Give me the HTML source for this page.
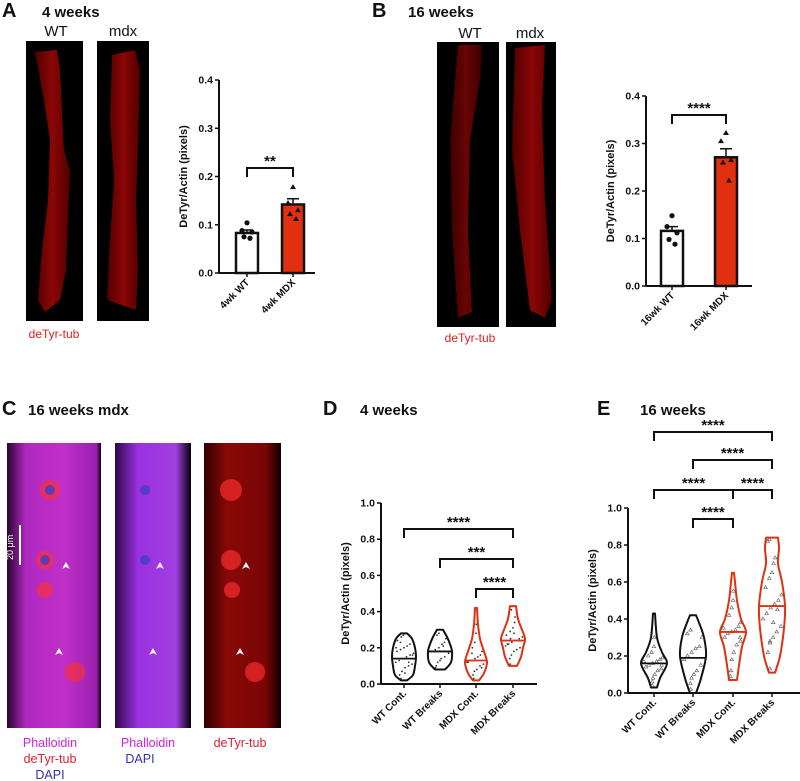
<!DOCTYPE html>
<html><head><meta charset="utf-8"><style>
body{margin:0;background:#fff;}
svg{display:block;font-family:"Liberation Sans",Arial,sans-serif;}
</style></head><body>
<svg id="fig" width="800" height="781" viewBox="0 0 800 781">
<defs>
<linearGradient id="gfib" x1="0" x2="1"><stop offset="0" stop-color="#500000"/><stop offset="0.5" stop-color="#8c0606"/><stop offset="1" stop-color="#500000"/></linearGradient>
<linearGradient id="gmag" x1="0" x2="1"><stop offset="0" stop-color="#2a0530"/><stop offset="0.2" stop-color="#b028c0"/><stop offset="0.6" stop-color="#c030c8"/><stop offset="0.95" stop-color="#9a20b0"/><stop offset="1" stop-color="#100010"/></linearGradient>
<linearGradient id="gmag2" x1="0" x2="1"><stop offset="0" stop-color="#30084a"/><stop offset="0.3" stop-color="#9a30e0"/><stop offset="0.8" stop-color="#a040e0"/><stop offset="1" stop-color="#050005"/></linearGradient>
<linearGradient id="gred" x1="0" x2="1"><stop offset="0" stop-color="#300000"/><stop offset="0.3" stop-color="#8a0808"/><stop offset="0.8" stop-color="#7a0505"/><stop offset="1" stop-color="#100000"/></linearGradient>
</defs>
<g font-weight="bold" fill="#111">
<text x="2" y="17" font-size="20">A</text>
<text x="42" y="17" font-size="15">4 weeks</text>
<text x="372" y="17" font-size="20">B</text>
<text x="408" y="17" font-size="15">16 weeks</text>
<text x="2" y="415" font-size="20">C</text>
<text x="28" y="415" font-size="15">16 weeks mdx</text>
<text x="323" y="415" font-size="20">D</text>
<text x="360" y="415" font-size="15">4 weeks</text>
<text x="597" y="415" font-size="20">E</text>
<text x="640" y="415" font-size="15">16 weeks</text>
</g>
<g font-size="15" fill="#111">
<text x="56" y="36" text-anchor="middle">WT</text>
<text x="123" y="36" text-anchor="middle">mdx</text>
<text x="470" y="38" text-anchor="middle">WT</text>
<text x="530" y="38" text-anchor="middle">mdx</text>
</g>
<rect x="26" y="41" width="57" height="280" fill="#000"/>
<path d="M35 52 L57 50 L60 70 L64 150 L70 170 L68 220 L66 270 L60 300 L45 312 L38 300 L42 250 L48 200 L50 140 L44 100 Z" fill="url(#gfib)"/>
<rect x="97" y="41" width="52" height="280" fill="#000"/>
<path d="M112 55 L135 50 L140 70 L138 150 L136 200 L138 270 L136 310 L107 300 L110 240 L114 180 L110 120 Z" fill="url(#gfib)"/>
<text x="54" y="338" font-size="12" fill="#e02020" text-anchor="middle">deTyr-tub</text>
<rect x="437" y="42" width="62" height="285" fill="#000"/>
<path d="M458 45 L482 45 L480 80 L470 140 L468 230 L472 312 L458 318 L452 230 L450 140 Z" fill="url(#gfib)" opacity="0.75"/>
<rect x="506" y="42" width="50" height="285" fill="#000"/>
<path d="M515 48 L545 45 L542 110 L545 200 L552 300 L545 318 L530 310 L520 230 L512 150 Z" fill="url(#gfib)"/>
<text x="470" y="342" font-size="12" fill="#e02020" text-anchor="middle">deTyr-tub</text>
<rect x="7" y="443" width="94" height="285" fill="url(#gmag)"/>
<rect x="115" y="443" width="76" height="285" fill="url(#gmag2)"/>
<rect x="204" y="443" width="77" height="285" fill="url(#gred)"/>
<g fill="#ff3030" opacity="0.65">
<circle cx="50" cy="490" r="10"/><circle cx="45" cy="560" r="9"/><circle cx="45" cy="590" r="8"/><circle cx="75" cy="672" r="10"/>
<circle cx="231" cy="490" r="11"/><circle cx="231" cy="560" r="10"/><circle cx="232" cy="590" r="8"/><circle cx="255" cy="672" r="10"/>
</g>
<g fill="#4040c0" opacity="0.8"><circle cx="50" cy="490" r="5"/><circle cx="45" cy="560" r="5"/><circle cx="145" cy="490" r="5"/><circle cx="145" cy="560" r="5"/></g>
<line x1="20" y1="525" x2="20" y2="565" stroke="#fff" stroke-width="2"/>
<text x="13" y="560" font-size="9" fill="#fff" transform="rotate(-90 13 560)">20 μm</text>
<g fill="#fff"><path d="M66 562 l-4 7 l4 -2 l4 2z"/><path d="M59 648 l-4 7 l4 -2 l4 2z"/><path d="M160 562 l-4 7 l4 -2 l4 2z"/><path d="M153 648 l-4 7 l4 -2 l4 2z"/><path d="M246 562 l-4 7 l4 -2 l4 2z"/><path d="M240 648 l-4 7 l4 -2 l4 2z"/></g>
<g font-size="12.5" text-anchor="middle">
<text x="50" y="747" fill="#d020e0">Phalloidin</text>
<text x="50" y="763" fill="#e02030">deTyr-tub</text>
<text x="50" y="779" fill="#3030b0">DAPI</text>
<text x="148" y="747" fill="#d020e0">Phalloidin</text>
<text x="140" y="763" fill="#3030b0">DAPI</text>
<text x="240" y="747" fill="#e02030">deTyr-tub</text>
</g>
<g id="charts"></g>
</svg>
<script>
const barCatsA = ["4wk WT","4wk MDX"];
const barMeansA = [0.083, 0.142];
const barSemA = [0.006, 0.012];
const barPtsA = [[0.104,0.088,0.085,0.075,0.072],[0.178,0.145,0.130,0.122,0.112]];
const barCatsB = ["16wk WT","16wk MDX"];
const barMeansB = [0.116, 0.271];
const barSemB = [0.009, 0.018];
const barPtsB = [[0.148,0.125,0.112,0.098,0.088],[0.322,0.305,0.265,0.260,0.222]];
const barTicks = [0.0,0.1,0.2,0.3,0.4];
const violinCats = ["WT Cont.","WT Breaks","MDX Cont.","MDX Breaks"];
const violinTicks = [0.0,0.2,0.4,0.6,0.8,1.0];
const dShapes = [
 [[0.02,3],[0.05,9],[0.1,11],[0.15,12],[0.2,11],[0.25,8],[0.28,3]],
 [[0.08,5],[0.12,11],[0.18,12],[0.22,10],[0.26,7],[0.3,3]],
 [[0.02,3],[0.06,8],[0.12,11],[0.18,8],[0.25,4],[0.33,2],[0.42,1]],
 [[0.1,4],[0.15,8],[0.2,10],[0.25,12],[0.3,9],[0.36,5],[0.43,3]]];
const dMedians = [0.14,0.18,0.13,0.24];
const dPoints = [
 [0.03,0.05,0.07,0.09,0.1,0.11,0.12,0.13,0.14,0.15,0.16,0.17,0.18,0.19,0.2,0.21,0.22,0.24,0.26,0.27,0.06,0.12,0.16,0.2,0.23],
 [0.09,0.1,0.12,0.14,0.15,0.17,0.18,0.19,0.2,0.22,0.23,0.25,0.27,0.28,0.13,0.21],
 [0.03,0.05,0.07,0.08,0.1,0.11,0.12,0.13,0.14,0.15,0.16,0.18,0.2,0.23,0.28,0.33,0.09,0.12,0.17],
 [0.11,0.14,0.16,0.18,0.19,0.2,0.21,0.22,0.23,0.24,0.25,0.26,0.27,0.29,0.31,0.34,0.37,0.41,0.22,0.25,0.28]];
const eShapes = [
 [[0.03,3],[0.08,6],[0.16,13],[0.22,8],[0.3,3],[0.43,1]],
 [[0.0,3],[0.08,8],[0.2,13],[0.3,11],[0.38,6],[0.42,3]],
 [[0.07,4],[0.15,6],[0.25,9],[0.33,13],[0.4,8],[0.5,4],[0.6,2],[0.65,1]],
 [[0.11,3],[0.2,8],[0.35,12],[0.47,13],[0.6,10],[0.7,6],[0.78,7],[0.84,6]]];
const eMedians = [0.16,0.19,0.33,0.47];
const ePoints = [
 [0.04,0.06,0.08,0.1,0.12,0.13,0.14,0.15,0.16,0.17,0.18,0.19,0.2,0.22,0.25,0.3,0.15,0.17],
 [0.02,0.05,0.08,0.1,0.12,0.15,0.18,0.2,0.22,0.24,0.25,0.3,0.32,0.34],
 [0.09,0.12,0.18,0.22,0.26,0.28,0.3,0.32,0.33,0.34,0.36,0.38,0.42,0.46,0.5,0.55,0.3,0.35],
 [0.13,0.22,0.27,0.3,0.33,0.36,0.4,0.43,0.46,0.48,0.5,0.53,0.57,0.62,0.65,0.7,0.73,0.82,0.83,0.28,0.38,0.45]];

const NS="http://www.w3.org/2000/svg";
const root=document.getElementById('charts');
function mk(tag,attrs,parent){const e=document.createElementNS(NS,tag);for(const k in attrs)e.setAttribute(k,attrs[k]);(parent||root).appendChild(e);return e;}
function txt(x,y,s,attrs,parent){const t=mk('text',Object.assign({x:x,y:y},attrs),parent);t.textContent=s;return t;}

function axes(g,ax){
 const yAx=mk('line',{x1:ax.x0,y1:ax.y(ax.ymax),x2:ax.x0,y2:ax.y(0),stroke:'#111','stroke-width':2},g);
 
 
 const xAx=mk('line',{x1:ax.x0,y1:ax.y(0),x2:ax.x1,y2:ax.y(0),stroke:'#111','stroke-width':2},g);
 
 
 ax.ticks.forEach(v=>{
  mk('line',{x1:ax.x0-4,y1:ax.y(v),x2:ax.x0,y2:ax.y(v),stroke:'#111','stroke-width':1.5},g);
  const t=txt(ax.x0-6,ax.y(v)+3.5,v.toFixed(1),{'font-size':10.5,'font-weight':'bold','text-anchor':'end',fill:'#111'},g);
  
  
 });
 const ym=(ax.y(0)+ax.y(ax.ymax))/2;
 const yt=txt(ax.x0-32,ym,'DeTyr/Actin (pixels)',{'font-size':11,'font-weight':'bold','text-anchor':'middle',fill:'#111',transform:`rotate(-90 ${ax.x0-32} ${ym})`},g);
 
 
 ax.cats.forEach((c,i)=>{
  const cx=ax.cx(i);
  mk('line',{x1:cx,y1:ax.y(0),x2:cx,y2:ax.y(0)+4,stroke:'#111','stroke-width':1.5},g);
  const yy=ax.y(0)+10;
  const l=txt(cx+3,yy,c,{'font-size':10,'font-weight':'bold','text-anchor':'end',fill:'#111',transform:`rotate(-45 ${cx+3} ${yy})`},g);
  
  
 });
}
function bracket(g,ax,i,j,yp,stars){
 const p=mk('path',{d:`M${ax.cx(i)} ${yp+9} V${yp} H${ax.cx(j)} V${yp+9}`,fill:'none',stroke:'#111','stroke-width':2},g);
 
 
 const t=txt((ax.cx(i)+ax.cx(j))/2,yp-2,stars,{'font-size':15,'font-weight':'bold','text-anchor':'middle',fill:'#111'},g);
 
 
}
function barChart(name,x0,x1,y0px,ytop,cx0,cx1,cats,means,sems,pts){
 const g=mk('g',{});
 
 
 const ax={x0:x0,x1:x1,ymax:0.4,ticks:barTicks,cats:cats,y:v=>y0px-(y0px-ytop)*v/0.4,cx:i=>i===0?cx0:cx1};
 means.forEach((m,i)=>{
  const cx=ax.cx(i);
  const r=mk('rect',{x:cx-11,y:ax.y(m),width:22,height:ax.y(0)-ax.y(m),fill:i?'#e03010':'#fff',stroke:'#111','stroke-width':2.5},g);
  
  
  mk('path',{d:`M${cx} ${ax.y(m)} V${ax.y(m+sems[i])} M${cx-6} ${ax.y(m+sems[i])} H${cx+6}`,stroke:'#111','stroke-width':1.5},g);
  pts[i].forEach((v,k)=>{
   const dx=[0,-5,5,-3,3][k%5];
   const py=ax.y(v);
   if(i===0){const c=mk('circle',{cx:cx+dx,cy:py,r:2.6,fill:'#111'},g);}
   else{const c=mk('path',{d:`M${cx+dx} ${py-3} l3 5 h-6z`,fill:'#111'},g);}
  });
 });
 axes(g,ax);
 return {g,ax};
}
const A=barChart('chart-a',219,315,273,80,247,293,barCatsA,barMeansA,barSemA,barPtsA);
bracket(A.g,A.ax,0,1,168,'**');
const B=barChart('chart-b',646,752,286,96,672,726,barCatsB,barMeansB,barSemB,barPtsB);
bracket(B.g,B.ax,0,1,115,'****');

function smooth(pts){
 // Catmull-Rom to cubic bezier through points
 let d='';
 for(let k=0;k<pts.length-1;k++){
  const p0=pts[Math.max(0,k-1)],p1=pts[k],p2=pts[k+1],p3=pts[Math.min(pts.length-1,k+2)];
  const c1=[p1[0]+(p2[0]-p0[0])/6,p1[1]+(p2[1]-p0[1])/6];
  const c2=[p2[0]-(p3[0]-p1[0])/6,p2[1]-(p3[1]-p1[1])/6];
  d+=` C${c1[0]} ${c1[1]} ${c2[0]} ${c2[1]} ${p2[0]} ${p2[1]}`;
 }
 return d;
}
function violinChart(name,x0,x1,y0px,ytop,centers,shapes,medians,points,scale,tri){
 const g=mk('g',{});
 
 
 const ax={x0:x0,x1:x1,ymax:1.0,ticks:violinTicks,cats:violinCats,y:v=>y0px-(y0px-ytop)*v,cx:i=>centers[i]};
 shapes.forEach((sh,i)=>{
  const cx=ax.cx(i), col=i>=2?'#e03010':'#111';
  const right=sh.map(p=>[cx+p[1]*scale,ax.y(p[0])]);
  const left=sh.slice().reverse().map(p=>[cx-p[1]*scale,ax.y(p[0])]);
  const d=`M${right[0][0]} ${right[0][1]}`+smooth(right)+` L${left[0][0]} ${left[0][1]}`+smooth(left)+'Z';
  const v=mk('path',{d:d,fill:'#fff',stroke:col,'stroke-width':2,'stroke-linejoin':'round'},g);
  
  
  points[i].forEach((p,k)=>{
   const hw=Math.max(1,interp(sh,p)*scale-2);
   const dx=(((k*37)%17)/8-1)*hw;
   if(tri){const t=mk('path',{d:`M${cx+dx} ${ax.y(p)-2} l1.8 3 h-3.6z`,fill:'none',stroke:'#555','stroke-width':0.6},g);}
   else{const c=mk('circle',{cx:cx+dx,cy:ax.y(p),r:0.9,fill:'#333'},g);}
  });
  const mw=interp(sh,medians[i])*scale;
  const m=mk('line',{x1:cx-mw,x2:cx+mw,y1:ax.y(medians[i]),y2:ax.y(medians[i]),stroke:col,'stroke-width':1.8},g);
  
  
 });
 axes(g,ax);
 return {g,ax};
}
function interp(sh,v){
 if(v<=sh[0][0])return sh[0][1];
 for(let k=1;k<sh.length;k++){if(v<=sh[k][0]){const a=sh[k-1],b=sh[k];return a[1]+(b[1]-a[1])*(v-a[0])/(b[0]-a[0]);}}
 return sh[sh.length-1][1];
}
const D=violinChart('chart-d',381,537,684,503,[404,440,476,513],dShapes,dMedians,dPoints,1.0,false);
bracket(D.g,D.ax,0,3,529,'****');
bracket(D.g,D.ax,1,3,559,'***');
bracket(D.g,D.ax,2,3,589,'****');
const E=violinChart('chart-e',628,800,693,508,[654,693,733,772],eShapes,eMedians,ePoints,1.0,true);
bracket(E.g,E.ax,0,3,432,'****');
bracket(E.g,E.ax,1,3,460,'****');
bracket(E.g,E.ax,0,2,490,'****');
bracket(E.g,E.ax,2,3,490,'****');
bracket(E.g,E.ax,1,2,519,'****');
</script>
</body></html>
